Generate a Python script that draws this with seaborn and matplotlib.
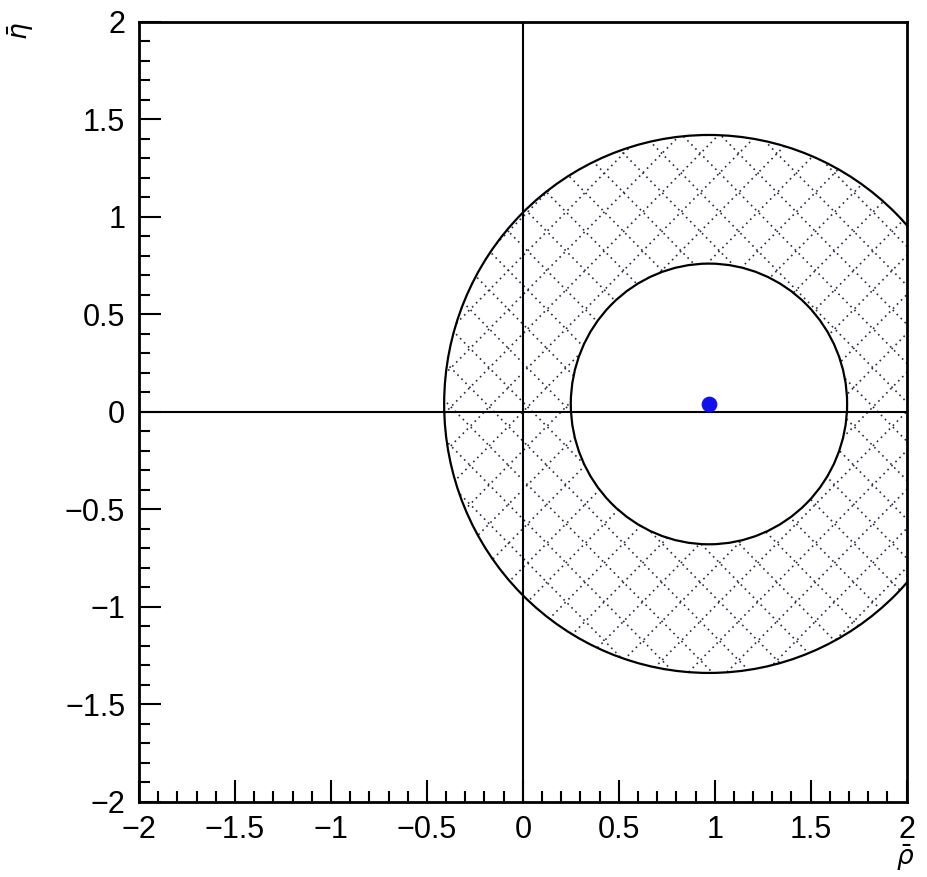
import numpy as np
import pandas as pd
import matplotlib
matplotlib.use("Agg")
import matplotlib.pyplot as plt
from matplotlib.patches import Circle, PathPatch
from matplotlib.path import Path
from matplotlib.ticker import MultipleLocator
import seaborn as sns

# Data
center_rho = [0.97]
center_eta = [0.04]
inner_radius = 0.72
outer_radius = 1.38
x_ticks = [-2, -1.5, -1, -0.5, 0, 0.5, 1, 1.5, 2]
y_ticks = [-2, -1.5, -1, -0.5, 0, 0.5, 1, 1.5, 2]
x_tick_labels = ["\u22122", "\u22121.5", "\u22121", "\u22120.5", "0", "0.5", "1", "1.5", "2"]
y_tick_labels = ["\u22122", "\u22121.5", "\u22121", "\u22120.5", "0", "0.5", "1", "1.5", "2"]

sns.set_style("white")
plt.rcParams['font.family'] = ['Liberation Sans', 'DejaVu Sans']
plt.rcParams['mathtext.fontset'] = 'dejavusans'

fig = plt.figure(figsize=(9.27, 8.77), dpi=100)
ax = fig.add_axes([0.150, 0.086, 0.828, 0.889])
ax.set_xlim(-2, 2)
ax.set_ylim(-2, 2)

cx, cy = center_rho[0], center_eta[0]

# annulus path for hatch clipping
t = np.linspace(0, 2 * np.pi, 400)
outer = np.column_stack([cx + outer_radius * np.cos(t), cy + outer_radius * np.sin(t)])
inner = np.column_stack([cx + inner_radius * np.cos(t[::-1]), cy + inner_radius * np.sin(t[::-1])])
verts = np.vstack([outer, [outer[0]], inner, [inner[0]]])
codes = ([Path.MOVETO] + [Path.LINETO] * (len(outer) - 1) + [Path.CLOSEPOLY]
         + [Path.MOVETO] + [Path.LINETO] * (len(inner) - 1) + [Path.CLOSEPOLY])
ann_path = Path(verts, codes)
clip_patch = PathPatch(ann_path, facecolor='none', edgecolor='none', transform=ax.transData)
ax.add_patch(clip_patch)

# dotted cross-hatch inside the annulus
xs = np.array([-3.0, 3.0])
spacing = 0.2
for c in np.arange(-6, 6, spacing):
    l1, = ax.plot(xs, xs + c, linestyle=(0, (1, 2.4)), color='#2a2a48', lw=1.2)
    l2, = ax.plot(xs, -xs + c + 0.05, linestyle=(0, (1, 2.4)), color='#2a2a48', lw=1.2)
    l1.set_clip_path(clip_patch)
    l2.set_clip_path(clip_patch)

# circles
ax.add_patch(Circle((cx, cy), outer_radius, fill=False, edgecolor='black', lw=1.6, zorder=3))
ax.add_patch(Circle((cx, cy), inner_radius, fill=False, edgecolor='black', lw=1.6, zorder=3))

# axes lines
ax.axhline(0, color='black', lw=1.5, zorder=4)
ax.axvline(0, color='black', lw=1.5, zorder=4)

# central point
df = pd.DataFrame({"rho": center_rho, "eta": center_eta})
sns.scatterplot(data=df, x="rho", y="eta", ax=ax, color='#1010ee', s=110,
                edgecolor='#1010ee', zorder=5, legend=False)

ax.set_xlabel("")
ax.set_ylabel("")

# ticks
ax.set_xticks(x_ticks)
ax.set_xticklabels(x_tick_labels)
ax.set_yticks(y_ticks)
ax.set_yticklabels(y_tick_labels)
ax.xaxis.set_minor_locator(MultipleLocator(0.1))
ax.yaxis.set_minor_locator(MultipleLocator(0.1))
ax.tick_params(which='both', direction='in', top=False, right=False,
               bottom=True, left=True, color='black', width=1.5)
ax.tick_params(which='major', length=16, labelsize=22, pad=10, labelcolor='black')
ax.tick_params(which='minor', length=8)

for sp in ax.spines.values():
    sp.set_visible(True)
    sp.set_color('black')
    sp.set_linewidth(2.0)

fig.text(0.022, 0.975, r"$\bar{\eta}$", rotation=90, fontsize=19, ha='center', va='top', color='black')
fig.text(0.977, 0.004, r"$\bar{\rho}$", fontsize=19, ha='center', va='bottom', color='black')

fig.savefig("out.png", dpi=100)
